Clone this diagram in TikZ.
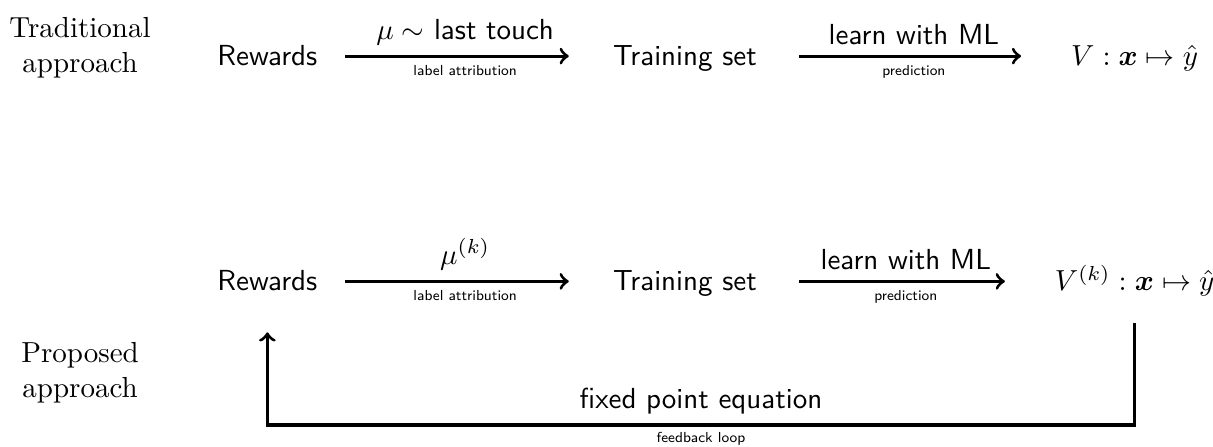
\documentclass[tikz,border=0pt]{standalone}
\usepackage{amsmath}
\usetikzlibrary{positioning}
\usetikzlibrary{arrows}
\tikzset{
        every path/.style={line width=1.1pt},
        stage/.style={font=\sffamily,text height=1.75ex,text depth=0.25ex},
        small/.style={font=\sffamily\tiny,inner sep=2.5pt},
        side/.style={align=center},
        }

\begin{document}
\begin{tikzpicture}
					\useasboundingbox (0,0) rectangle (14.70,-5.41);

					% row titles.....................
					\node [side] (trad) at (0.97,-0.58) {Traditional\\approach};
					\node [side] (prop) at (0.97,-4.52) {Proposed\\approach};

					% traditional row...................
					\node [stage] (rew1) at (3.24,-0.68) {Rewards};
					\node [stage] (train1) at (8.30,-0.68) {Training set};
					\node [stage] (val1) at (13.75,-0.68) {$V : \boldsymbol{x} \mapsto \hat{y}$};

					\draw [->,shorten <=0.2cm,shorten >=0.4cm] (rew1) to node [above,font=\sffamily] {$\mu \sim$ last touch} node [below,small] {label attribution} (train1);
					\draw [->,shorten <=0.38cm,shorten >=0.47cm] (train1) to node [above,font=\sffamily] {learn with ML} node [below,small] {prediction} (val1);

					% proposed row...................
					\node [stage] (rew2) at (3.24,-3.41) {Rewards};
					\node [stage] (train2) at (8.30,-3.41) {Training set};
					\node [stage] (val2) at (13.75,-3.41) {$V^{(k)} : \boldsymbol{x} \mapsto \hat{y}$};

					\draw [->,shorten <=0.2cm,shorten >=0.4cm] (rew2) to node [above,font=\sffamily] {$\mu^{(k)}$} node [below,small] {label attribution} (train2);
					\draw [->,shorten <=0.38cm,shorten >=0.47cm] (train2) to node [above,font=\sffamily] {learn with ML} node [below,small] {prediction} (val2);

					% feedback loop.............
					\coordinate (loop) at (0,-5.15);
					\draw [->,shorten <=0.22cm,shorten >=0.33cm] (val2) -- (val2 |- loop) -- node [above,font=\sffamily] {fixed point equation} node [below,small,inner sep=2pt] {feedback loop} (rew2 |- loop) -- (rew2);
				\end{tikzpicture}
\end{document}
